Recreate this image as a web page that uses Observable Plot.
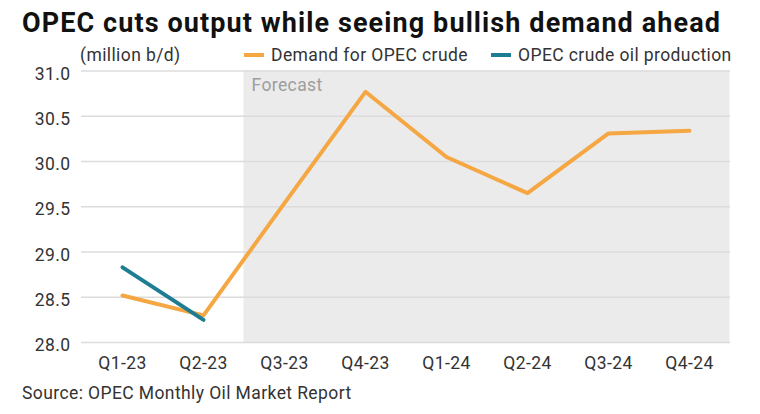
<!DOCTYPE html>
<html><head><meta charset="utf-8">
<script src="https://cdn.jsdelivr.net/npm/d3@7"></script>
<script src="https://cdn.jsdelivr.net/npm/@observablehq/plot@0.6"></script>
<style>
body{margin:0;background:#fff;font-family:Roboto,"Liberation Sans",sans-serif;color:#222;width:760px;height:414px;overflow:hidden;position:relative}
#title{position:absolute;left:22px;top:7px;font-size:27px;font-weight:700;letter-spacing:1.1px;color:#111;white-space:nowrap;line-height:32px}
#unit{position:absolute;left:80px;top:43px;font-size:17.5px;letter-spacing:0.4px;color:#333;line-height:24px}
.leg{position:absolute;top:43px;font-size:17.5px;letter-spacing:0.4px;color:#333;white-space:nowrap;line-height:24px}
.sw{display:inline-block;width:20px;height:4px;vertical-align:middle;margin-right:7px;position:relative;top:-1px}
#chart{position:absolute;left:0;top:62px}
#src{position:absolute;left:22px;top:381px;font-size:17.5px;letter-spacing:0.4px;color:#333;line-height:24px}
</style></head><body>
<div id="title">OPEC cuts output while seeing bullish demand ahead</div>
<div id="unit">(million b/d)</div>
<div class="leg" style="left:244px"><span class="sw" style="background:#F4A742"></span>Demand for OPEC crude</div>
<div class="leg" style="left:491px"><span class="sw" style="background:#1E7D93"></span>OPEC crude oil production</div>
<div id="chart"></div>
<div id="src">Source: OPEC Monthly Oil Market Report</div>
<script>
const quarters = ["Q1-23","Q2-23","Q3-23","Q4-23","Q1-24","Q2-24","Q3-24","Q4-24"];
const demand = [28.52, 28.30, 29.54, 30.77, 30.05, 29.65, 30.31, 30.34];
const productionQuarters = ["Q1-23","Q2-23"];
const production = [28.83, 28.25];
const yTicks = [28.0, 28.5, 29.0, 29.5, 30.0, 30.5, 31.0];
const forecastStart = "Q3-23", forecastEnd = "Q4-24";

const demandData = quarters.map((q,i)=>({q, v: demand[i]}));
const prodData = productionQuarters.map((q,i)=>({q, v: production[i]}));

const chart = Plot.plot({
  width: 760, height: 312,
  marginLeft: 81, marginRight: 30, marginTop: 8.5, marginBottom: 32,
  style: {fontFamily: "Roboto, sans-serif", fontSize: "17.5px", letterSpacing: "0.4px", color: "#333", background: "transparent", overflow: "visible"},
  x: {type: "point", domain: quarters, padding: 0.5, label: null},
  y: {domain: [28, 31], label: null},
  marks: [
    Plot.rect([0], {x1: () => forecastStart, x2: () => forecastEnd, y1: 28, y2: 31, insetLeft: -40.5, insetRight: -40.5, fill: "#EBEBEB"}),
    Plot.ruleY(yTicks, {stroke: "#DCDCDC", strokeWidth: 1.5}),
    Plot.axisY({ticks: yTicks, tickFormat: d3.format(".1f"), tickSize: 0, tickPadding: 11, dy: 3, fill: "#333", label: null}),
    Plot.axisX({tickSize: 0, tickPadding: 14, fill: "#333", label: null}),
    Plot.text(["Forecast"], {x: () => forecastStart, y: 31, text: d => d, dx: -33, dy: 14, textAnchor: "start", fill: "#9d9d9d", fontSize: 17.5}),
    Plot.line(demandData, {x: "q", y: "v", stroke: "#F4A742", strokeWidth: 4}),
    Plot.line(prodData, {x: "q", y: "v", stroke: "#1E7D93", strokeWidth: 4})
  ]
});
document.getElementById("chart").appendChild(chart);
</script>
</body></html>
